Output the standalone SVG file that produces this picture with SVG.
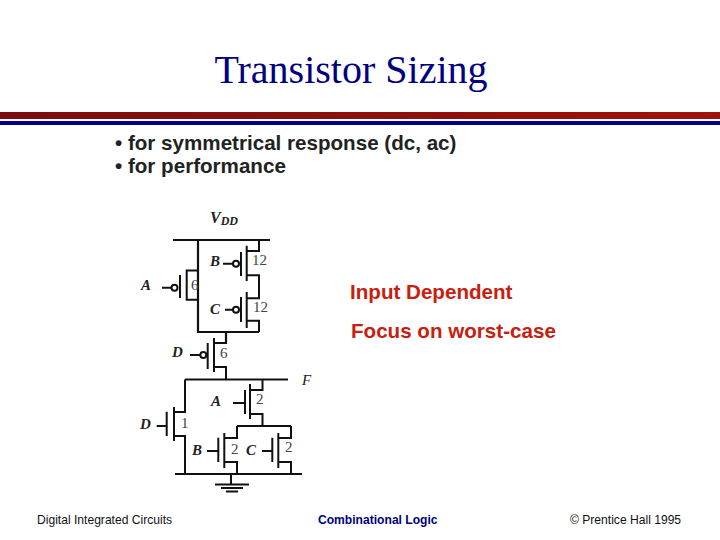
<svg xmlns="http://www.w3.org/2000/svg" width="720" height="540" viewBox="0 0 720 540">
<defs>
<linearGradient id="red" x1="0" x2="1" y1="0" y2="0"><stop offset="0" stop-color="#7a0d0d"/><stop offset="1" stop-color="#a01208"/></linearGradient>
</defs>
<style>
.w{fill:none;stroke:#111;stroke-width:2}
.h{fill:none;stroke:#111;stroke-width:2.2}
.b{fill:#fff;stroke:#111;stroke-width:2}
.lbl{font-family:"Liberation Serif",serif;font-style:italic;font-weight:700;font-size:15px;fill:#222}
.sz{font-family:"Liberation Serif",serif;font-size:15px;fill:#444}
.foot{font-family:"Liberation Sans",sans-serif;font-size:12.100px;fill:#111}
.bul{font-family:"Liberation Sans",sans-serif;font-weight:700;font-size:20.600px;fill:#222}
.red{font-family:"Liberation Sans",sans-serif;font-weight:700;font-size:20.600px;fill:#c8200f}
</style>
<rect width="720" height="540" fill="#fff"/>
<g id="title"><text x="351" y="83" text-anchor="middle" font-family="Liberation Serif, serif" font-size="40" fill="#000080">Transistor Sizing</text></g>
<g id="rule">
<rect x="0" y="112" width="720" height="7" fill="url(#red)"/>
<rect x="0" y="121" width="720" height="4" fill="#000080"/>
</g>
<g id="bullets">
<text class="bul" x="115" y="150">• for symmetrical response (dc, ac)</text>
<text class="bul" x="115" y="173">• for performance</text>
</g>
<g id="notes">
<text class="red" x="350" y="299">Input Dependent</text>
<text class="red" x="351" y="338">Focus on worst-case</text>
</g>
<g id="connectors">
<path class="h" d="M173 240H270M198 240V332H259M226 332V343.500M185 379.500H288M175 474H302M237 426H291"/>
<path class="w" d="M198 270.500H186.700V299.700H198"/>
<path class="w" d="M259 240V251H246.700M246.700 245.700V281M246.700 275.300H259V298.300H246.700M246.700 292V328M246.700 320.700H259V332"/>
<path class="w" d="M226 332V343H214M214 338V372M214 367H226V379.500"/>
<path class="w" d="M262.500 379.500V390H250M250 384V419M250 414H262.500V426"/>
<path class="w" d="M185 379.500V412H174M174 407V441M174 436H185V474"/>
<path class="w" d="M237 426V438H224.300M224.300 433V468M224.300 462H237V474"/>
<path class="w" d="M291 426V438H278.300M278.300 433V468M278.300 462H291V474"/>
<path class="w" d="M231 474V484M215 484.500H249M221 488H243M226 491.500H238"/>
<path class="w" d="M180 275V298M162 287.700H171M241 252V276M223 263.700H233M241 297V322M225 309.700H233M207.700 343V369M190 355H200M245 390V414M233 403H245M166.700 411.700V436M156.700 426H166.700M218.300 437.700V462M207 451H218.300M272.300 437.700V462M262 451H272.300"/>
<circle class="b" cx="174.500" cy="287.700" r="3"/>
<circle class="b" cx="236" cy="263.700" r="3"/>
<circle class="b" cx="236" cy="309.700" r="3"/>
<circle class="b" cx="203.300" cy="355" r="3"/>
</g>
<g id="labels">
<text x="210" y="223" font-family="Liberation Serif, serif" font-style="italic" font-weight="700" font-size="16" fill="#222">V<tspan font-size="12" dy="2">DD</tspan></text>
<text class="lbl" x="141" y="290">A</text>
<text class="lbl" x="210" y="266">B</text>
<text class="lbl" x="210" y="314">C</text>
<text class="lbl" x="172" y="357">D</text>
<text class="lbl" x="211" y="406">A</text>
<text class="lbl" x="140" y="429">D</text>
<text class="lbl" x="192" y="455">B</text>
<text class="lbl" x="246" y="455">C</text>
<text class="lbl" x="302" y="385" font-weight="400" style="font-weight:400">F</text>
<text class="sz" x="191" y="290">6</text>
<text class="sz" x="252" y="265">12</text>
<text class="sz" x="253" y="312">12</text>
<text class="sz" x="220" y="358">6</text>
<text class="sz" x="256" y="404">2</text>
<text class="sz" x="181" y="428">1</text>
<text class="sz" x="231" y="454">2</text>
<text class="sz" x="285" y="452">2</text>
</g>
<g id="footer">
<text class="foot" x="37" y="524">Digital Integrated Circuits</text>
<text x="318" y="524" font-family="Liberation Sans, sans-serif" font-size="12.100" font-weight="700" fill="#000080">Combinational Logic</text>
<text class="foot" x="570" y="524">© Prentice Hall 1995</text>
</g>
</svg>
